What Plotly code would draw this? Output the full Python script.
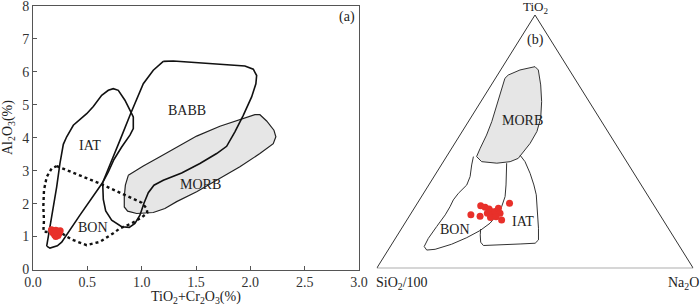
import plotly.graph_objects as go

# ---------------- Panel (a): Al2O3 vs TiO2+Cr2O3 ----------------
iat_x = [0.126, 0.156, 0.224, 0.264, 0.432, 0.641, 0.693, 0.745, 0.816, 0.892, 0.923, 0.923, 0.908,
         0.846, 0.785, 0.739, 0.693, 0.632, 0.555, 0.494, 0.371, 0.310, 0.279, 0.248, 0.218, 0.187,
         0.156, 0.126]
iat_y = [0.71, 0.65, 0.72, 0.83, 1.65, 2.64, 2.96, 3.34, 3.72, 4.08, 4.28, 4.63, 4.73,
         5.14, 5.44, 5.49, 5.44, 5.29, 4.95, 4.73, 4.38, 4.03, 3.80, 3.22, 2.51, 1.90,
         1.20, 0.71]

babb_x = [1.199, 1.291, 1.950, 2.027, 2.058, 2.051, 2.012, 1.935, 1.858, 1.782, 1.690, 1.536, 1.368,
          1.199, 1.113, 1.061, 1.021, 0.984, 0.938, 0.886, 0.816, 0.724, 0.669, 0.647, 0.641, 0.715,
          0.800, 0.898, 1.015, 1.107, 1.199]
babb_y = [6.32, 6.33, 6.18, 6.08, 5.89, 5.64, 5.24, 4.68, 4.18, 3.74, 3.52, 3.22, 2.93,
          2.71, 2.56, 2.33, 2.01, 1.65, 1.40, 1.28, 1.30, 1.50, 1.78, 2.13, 2.64, 3.22,
          3.92, 4.73, 5.64, 6.05, 6.32]

morb_x = [0.877, 1.015, 1.168, 1.322, 1.506, 1.720, 1.904, 2.042, 2.088, 2.150, 2.217, 2.235, 2.211,
          2.088, 1.904, 1.690, 1.506, 1.322, 1.214, 1.107, 0.954, 0.871, 0.840, 0.840, 0.850, 0.877]
morb_y = [2.86, 3.14, 3.42, 3.70, 4.05, 4.35, 4.56, 4.70, 4.70, 4.51, 4.23, 4.03, 3.82,
          3.52, 3.12, 2.71, 2.36, 2.06, 1.85, 1.73, 1.70, 1.77, 1.90, 2.21, 2.56, 2.86]

bon_x = [0.218, 0.616, 1.000, 1.046, 1.052, 1.000, 0.908, 0.800, 0.739, 0.616, 0.494, 0.356, 0.264,
         0.095, 0.101, 0.095, 0.101, 0.126, 0.172, 0.218]
bon_y = [3.14, 2.61, 2.03, 1.85, 1.72, 1.58, 1.40, 1.25, 1.10, 0.84, 0.74, 0.91, 1.10,
         1.15, 1.50, 1.90, 2.41, 2.81, 3.07, 3.14]

samp_x = [0.17, 0.19, 0.21, 0.23, 0.24, 0.22, 0.20, 0.21, 0.19, 0.23, 0.18, 0.22, 0.20, 0.25]
samp_y = [1.21, 1.17, 1.19, 1.16, 1.10, 1.08, 1.05, 1.00, 1.10, 1.03, 1.13, 1.13, 1.12, 1.18]

x_ticks = [0.0, 0.5, 1.0, 1.5, 2.0, 2.5, 3.0]
y_ticks = [0, 1, 2, 3, 4, 5, 6, 7, 8]

# ---------------- Panel (b): TiO2 - SiO2/100 - Na2O ternary (percent) ----------------
t_morb_ti = [76.3, 78.3, 79.6, 78.3, 72.4, 65.8, 59.2, 54.0, 49.3, 46.1, 43.4, 42.1, 41.5, 42.1,
             44.1, 47.4, 52.6, 57.9, 64.5, 71.1, 75.0, 76.3]
t_morb_na = [3.4, 6.1, 10.2, 11.9, 15.6, 19.2, 22.2, 23.6, 23.8, 23.3, 23.0, 21.1, 17.2, 12.1,
             9.5, 9.0, 8.4, 7.4, 5.7, 3.9, 3.0, 3.4]

t_bon_ti = [44.1, 40.8, 36.2, 32.9, 29.6, 27.0, 24.3, 21.1, 16.5, 11.8, 8.6, 7.2, 7.5, 9.5,
            12.1, 14.9, 17.8, 21.1, 24.3, 28.3, 32.9, 38.2, 41.5]
t_bon_na = [8.5, 9.6, 11.4, 12.0, 11.0, 10.7, 11.0, 11.1, 10.7, 10.4, 10.7, 12.2, 14.7, 18.9,
            22.4, 25.2, 26.9, 27.4, 27.3, 26.4, 24.4, 21.8, 20.3]

t_iat_ti = [44.7, 42.1, 37.5, 32.9, 29.0, 22.4, 15.8, 11.2, 9.9, 9.6, 9.2, 9.0, 10.3, 13.2, 15.5]
t_iat_na = [22.9, 25.8, 29.7, 33.2, 35.9, 39.6, 43.2, 45.5, 45.1, 40.5, 34.3, 29.2, 27.7, 26.1, 25.1]

t_samp_ti = [21.1, 20.5, 24.7, 24.1, 23.4, 22.4, 21.7, 21.1, 20.1, 22.4, 23.7, 21.7, 19.1, 25.7, 20.4]
t_samp_na = [19.2, 22.4, 20.5, 22.2, 23.8, 24.9, 24.1, 26.1, 25.9, 26.2, 26.6, 28.1, 29.9, 29.1, 27.5]

tri_ti = [0, 0, 100, 0]
tri_na = [0, 100, 0, 0]


def proj(ti, na):
    """Ternary (TiO2 top, SiO2/100 left, Na2O right) -> cartesian."""
    xs = [n / 100.0 + t / 200.0 for t, n in zip(ti, na)]
    ys = [t / 100.0 for t in ti]
    return xs, ys


SERIF = "Liberation Serif"
RED = "#e8302a"
fig = go.Figure()

# panel (a)
fig.add_trace(go.Scatter(x=morb_x, y=morb_y, mode="lines", fill="toself", fillcolor="#e6e6e6",
                         line=dict(color="#222222", width=1.2), xaxis="x", yaxis="y", hoverinfo="skip"))
fig.add_trace(go.Scatter(x=babb_x, y=babb_y, mode="lines", line=dict(color="#111111", width=1.6),
                         xaxis="x", yaxis="y", hoverinfo="skip"))
fig.add_trace(go.Scatter(x=iat_x, y=iat_y, mode="lines", line=dict(color="#111111", width=1.6),
                         xaxis="x", yaxis="y", hoverinfo="skip"))
fig.add_trace(go.Scatter(x=bon_x, y=bon_y, mode="lines", line=dict(color="#111111", width=2.4, dash="dot"),
                         xaxis="x", yaxis="y", hoverinfo="skip"))
fig.add_trace(go.Scatter(x=samp_x, y=samp_y, mode="markers", marker=dict(color=RED, size=7),
                         xaxis="x", yaxis="y"))

# panel (b)
for ti, na, fill in [(t_morb_ti, t_morb_na, True), (t_bon_ti, t_bon_na, False), (t_iat_ti, t_iat_na, False)]:
    px_, py_ = proj(ti, na)
    fig.add_trace(go.Scatter(x=px_, y=py_, mode="lines",
                             fill="toself" if fill else None,
                             fillcolor="#e6e6e6" if fill else None,
                             line=dict(color="#333333", width=1),
                             xaxis="x2", yaxis="y2", hoverinfo="skip"))
tx, ty = proj(tri_ti, tri_na)
fig.add_trace(go.Scatter(x=tx, y=ty, mode="lines", line=dict(color="#333333", width=1),
                         xaxis="x2", yaxis="y2", hoverinfo="skip", cliponaxis=False))
sx, sy = proj(t_samp_ti, t_samp_na)
fig.add_trace(go.Scatter(x=sx, y=sy, mode="markers", marker=dict(color=RED, size=7),
                         xaxis="x2", yaxis="y2"))

axis_common = dict(showline=True, linecolor="#555555", linewidth=1, mirror=True, ticks="inside",
                   ticklen=4, tickcolor="#555555", showgrid=False, zeroline=False,
                   ticklabeloverflow="allow", automargin=False,
                   tickfont=dict(family=SERIF, size=14, color="#333333"))

ann = []
def txt(x, y, s, xref, yref, size=14, **kw):
    ann.append(dict(x=x, y=y, text=s, xref=xref, yref=yref, showarrow=False,
                    xanchor="center", yanchor="middle",
                    font=dict(family=SERIF, size=size, color="#222222"), **kw))

txt(0.52, 3.75, "IAT", "x", "y")
txt(1.42, 4.83, "BABB", "x", "y")
txt(1.54, 2.58, "MORB", "x", "y")
txt(0.55, 1.27, "BON", "x", "y")
txt(2.89, 7.67, "(a)", "x", "y")
txt(196 / 700, 1 - 297 / 307, "TiO<sub>2</sub>+Cr<sub>2</sub>O<sub>3</sub>(%)", "paper", "paper")
txt(9 / 700, 1 - 128 / 307, "Al<sub>2</sub>O<sub>3</sub>(%)", "paper", "paper", textangle=-90)

txt(0.462, 0.585, "MORB", "x2", "y2")
txt(0.247, 0.155, "BON", "x2", "y2")
txt(0.462, 0.183, "IAT", "x2", "y2")
txt(0.5, 0.901, "(b)", "x2", "y2")
txt(535 / 700, 1 - 7 / 307, "TiO<sub>2</sub>", "paper", "paper", size=13)
txt(402 / 700, 1 - 283 / 307, "SiO<sub>2</sub>/100", "paper", "paper")
txt(683 / 700, 1 - 283 / 307, "Na<sub>2</sub>O", "paper", "paper")

fig.update_layout(
    width=700, height=307, margin=dict(l=0, r=0, t=0, b=0, pad=0, autoexpand=False),
    paper_bgcolor="white", plot_bgcolor="white", showlegend=False,
    xaxis=dict(domain=[33 / 700, 359 / 700], range=[0, 3], anchor="y",
               tickvals=x_ticks, ticktext=[f"{v:.1f}" for v in x_ticks], **axis_common),
    yaxis=dict(domain=[1 - 269.5 / 307, 1 - 6 / 307], range=[0, 8], anchor="x",
               tickvals=y_ticks, **axis_common),
    xaxis2=dict(domain=[376.7 / 700, 693.3 / 700], range=[0, 1], anchor="y2", visible=False),
    yaxis2=dict(domain=[1 - 268.3 / 307, 1 - 15 / 307], range=[0, 1], anchor="x2", visible=False),
    annotations=ann,
)

fig.write_html("out.html", config={"displayModeBar": False},
               post_script="document.body.style.margin='0';document.body.style.padding='0';")
